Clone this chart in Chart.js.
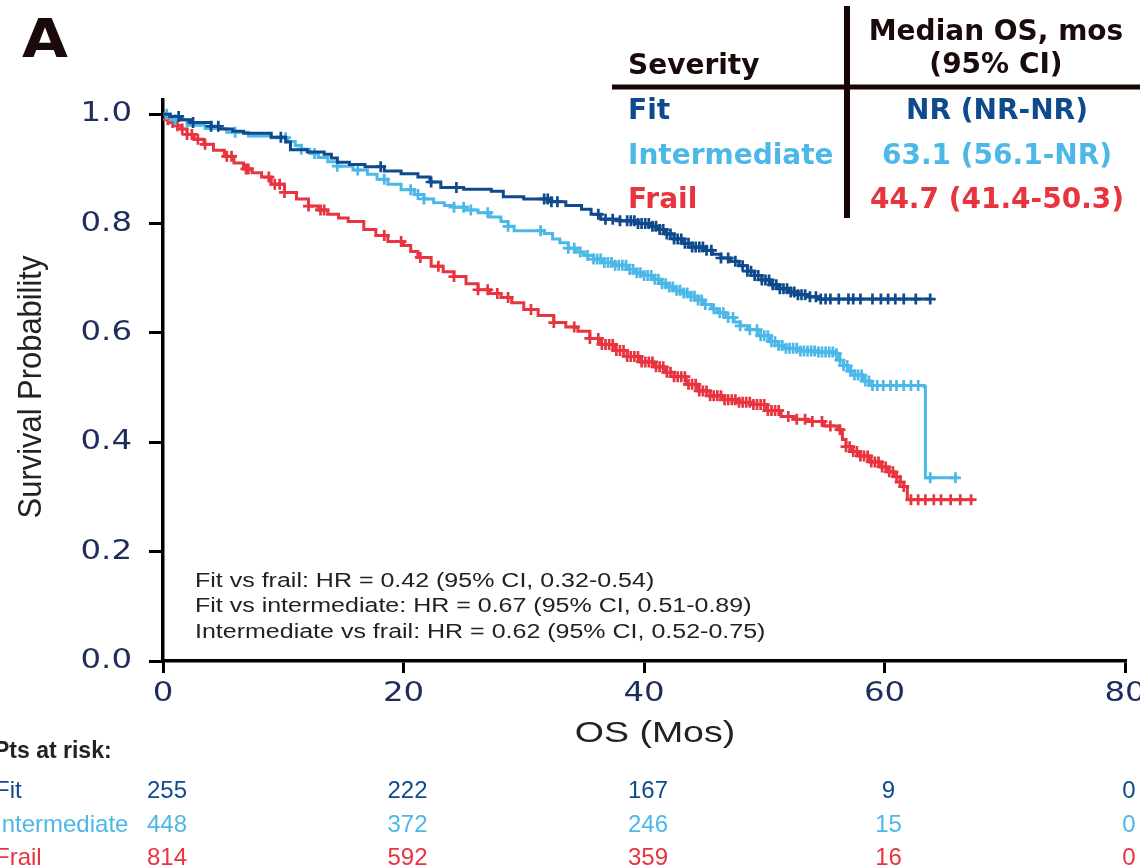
<!DOCTYPE html>
<html>
<head>
<meta charset="utf-8">
<script src="https://cdn.jsdelivr.net/npm/chart.js@4.4.1/dist/chart.umd.min.js"></script>
<style>
  html, body { margin: 0; padding: 0; background: #fff; }
  canvas { display: block; }
</style>
</head>
<body>
<canvas id="km" width="1140" height="867"></canvas>
<script>
// groups and colours
const groups = ["Fit", "Intermediate", "Frail"];
const colors = ["#0f4a8c", "#4cb8e8", "#e8343f"];

// Kaplan-Meier steps: [month, survival]
const fitKM = [[0,1.0],[0.6,0.996],[1.5,0.99],[2.3,0.985],[4.0,0.978],[4.7,0.973],[5.8,0.969],[6.7,0.965],
  [9.0,0.958],[10.2,0.949],[10.6,0.935],[12.0,0.931],[13.4,0.927],[14.0,0.92],[14.5,0.912],[15.5,0.908],
  [16.8,0.904],[18.4,0.896],[19.8,0.891],[21.2,0.885],[22.2,0.876],[23.1,0.866],[25.0,0.863],[27.3,0.859],
  [28.3,0.849],[30.0,0.845],[32.3,0.84],[33.5,0.833],[34.8,0.826],[35.6,0.817],[36.4,0.808],[38.0,0.805],
  [39.5,0.80],[40.5,0.795],[41.2,0.789],[41.8,0.781],[42.5,0.772],[43.2,0.764],[44.0,0.757],[45.0,0.751],
  [45.7,0.744],[46.4,0.737],[47.2,0.731],[47.9,0.723],[48.6,0.713],[49.2,0.705],[49.8,0.697],[50.5,0.688],
  [51.2,0.681],[52.0,0.675],[52.8,0.670],[53.6,0.666],[54.5,0.662],[63.8,0.662]];
const intKM = [[0,1.0],[0.6,0.99],[2.0,0.98],[3.5,0.974],[5.3,0.967],[7.1,0.96],[9.0,0.957],[10.4,0.95],
  [11.0,0.943],[11.5,0.936],[12.2,0.928],[12.9,0.921],[13.7,0.913],[14.5,0.905],[15.8,0.898],[17.0,0.89],
  [17.8,0.881],[18.7,0.872],[19.8,0.862],[20.9,0.853],[21.7,0.845],[22.5,0.838],[23.4,0.833],[24.2,0.83],
  [25.2,0.825],[26.2,0.82],[27.2,0.812],[28.1,0.804],[28.7,0.795],[29.2,0.787],[31.7,0.782],[32.4,0.772],
  [33.0,0.765],[33.7,0.755],[34.4,0.748],[35.0,0.742],[35.8,0.735],[36.6,0.729],[37.5,0.724],[38.6,0.716],
  [39.3,0.71],[40.0,0.705],[40.8,0.698],[41.4,0.69],[42.0,0.684],[42.5,0.678],[43.2,0.673],[43.9,0.667],
  [44.5,0.66],[45.0,0.652],[45.6,0.644],[46.1,0.637],[46.8,0.628],[47.5,0.62],[48.0,0.613],[48.6,0.606],
  [49.5,0.595],[50.5,0.584],[51.2,0.577],[51.8,0.572],[53.0,0.567],[54.5,0.565],[55.8,0.562],[56.2,0.55],
  [56.6,0.54],[57.0,0.53],[57.5,0.523],[58.2,0.512],[58.8,0.504],[63.3,0.502],[63.4,0.335],[66.1,0.335]];
const frailKM = [[0,1.0],[0.3,0.99],[0.6,0.985],[1.0,0.979],[1.5,0.973],[2.0,0.963],[2.6,0.954],[3.4,0.945],
  [4.2,0.934],[5.1,0.923],[5.9,0.911],[6.7,0.9],[7.4,0.893],[8.2,0.885],[9.0,0.872],[10.1,0.857],[11.1,0.845],
  [12.1,0.832],[12.9,0.825],[13.7,0.817],[14.6,0.81],[15.4,0.804],[16.7,0.789],[17.7,0.778],[18.7,0.767],
  [20.0,0.76],[20.6,0.749],[21.2,0.738],[22.3,0.722],[23.3,0.712],[24.2,0.703],[25.2,0.69],[26.2,0.679],
  [27.2,0.672],[28.1,0.665],[29.0,0.655],[30.0,0.643],[31.2,0.632],[32.5,0.619],[33.5,0.611],[34.5,0.603],
  [35.5,0.59],[36.4,0.579],[37.5,0.568],[38.6,0.557],[39.7,0.547],[40.8,0.538],[41.7,0.528],[42.5,0.52],
  [43.5,0.506],[44.5,0.494],[45.5,0.485],[46.6,0.478],[47.8,0.473],[49.1,0.469],[50.2,0.458],[51.4,0.447],
  [52.5,0.442],[53.6,0.438],[55.0,0.43],[56.1,0.423],[56.5,0.405],[56.8,0.392],[57.3,0.383],[57.8,0.375],
  [58.8,0.364],[59.7,0.355],[60.3,0.346],[60.8,0.337],[61.3,0.327],[61.6,0.319],[61.9,0.295],[67.4,0.295]];

// censoring times (months)
const fitCens = [1.3,2.5,4.0,4.6,9.8,18.1,22.3,24.4,31.7,32.0,32.3,32.8,36.2,36.8,37.4,38.0,38.6,38.9,39.2,
  39.5,39.8,40.1,40.4,40.7,41.0,41.3,41.6,41.9,42.2,42.5,42.8,43.1,43.4,43.7,44.0,44.3,44.6,44.9,45.2,45.6,
  46.4,47.0,47.6,48.2,48.6,48.9,49.2,49.5,49.8,50.1,50.4,50.7,51.0,51.3,51.6,51.9,52.2,52.5,52.8,53.1,53.4,
  53.8,54.3,54.7,55.1,55.5,56.2,57.0,57.4,58.0,59.0,59.7,60.3,60.9,61.6,62.6,63.8];
const intCens = [0.3,1.0,6.0,10.2,11.5,12.6,14.5,16.2,18.4,20.6,21.2,21.7,24.2,25.0,25.6,27.0,28.7,31.4,
  33.7,34.2,34.7,35.3,35.8,36.1,36.4,36.7,37.0,37.3,37.6,37.9,38.2,38.5,38.8,39.1,39.4,39.7,40.0,40.3,40.6,
  40.9,41.2,41.5,41.8,42.1,42.4,42.7,43.0,43.3,43.6,43.9,44.2,44.5,44.8,45.1,45.8,46.3,46.6,47.0,47.4,48.0,
  48.8,49.4,49.7,50.0,50.3,50.6,50.9,51.2,51.5,51.8,52.1,52.4,52.7,53.0,53.3,53.6,53.9,54.2,54.5,54.8,55.1,
  55.4,55.7,56.0,56.3,56.6,56.9,57.2,57.5,57.8,58.1,58.4,58.7,59.0,59.4,59.9,60.5,61.0,61.6,62.2,62.8,63.8,
  65.9];
const frailCens = [0.4,0.8,1.2,1.6,2.0,2.4,2.9,3.5,5.3,5.7,6.9,7.1,8.8,9.3,9.7,10.1,12.1,13.1,13.4,18.4,
  19.8,21.4,22.9,24.2,26.2,27.0,27.8,28.7,30.6,32.5,34.2,35.5,36.2,36.5,36.8,37.1,37.4,37.7,38.0,38.3,38.6,
  38.9,39.2,39.5,39.8,40.1,40.4,40.7,41.0,41.3,41.6,41.9,42.2,42.5,42.8,43.1,43.4,43.7,44.0,44.3,44.6,44.9,
  45.2,45.5,45.8,46.1,46.4,46.7,47.0,47.3,47.6,47.9,48.2,48.5,48.8,49.1,49.4,49.7,50.0,50.3,50.6,50.9,51.2,
  52.0,52.7,53.4,54.0,54.8,55.5,56.3,56.8,57.1,57.4,57.7,58.0,58.3,58.6,58.9,59.2,59.5,59.8,60.1,60.4,60.7,
  61.0,61.3,61.6,62.2,62.8,63.4,64.1,64.7,65.5,66.3,67.2];

// axes
const xTicks = [0, 20, 40, 60, 80];
const yTicks = [0.0, 0.2, 0.4, 0.6, 0.8, 1.0];

// numbers at risk
const riskTimes = [0, 20, 40, 60, 80];
const riskFit = [255, 222, 167, 9, 0];
const riskInt = [448, 372, 246, 15, 0];
const riskFrail = [814, 592, 359, 16, 0];

// median table and hazard ratios
const medianOS = ["NR (NR-NR)", "63.1 (56.1-NR)", "44.7 (41.4-50.3)"];
const hrLines = [
  "Fit vs frail: HR = 0.42 (95% CI, 0.32-0.54)",
  "Fit vs intermediate: HR = 0.67 (95% CI, 0.51-0.89)",
  "Intermediate vs frail: HR = 0.62 (95% CI, 0.52-0.75)"
];

const kmSets = [fitKM, intKM, frailKM];
const censSets = [fitCens, intCens, frailCens];
const riskSets = [riskFit, riskInt, riskFrail];

function stepAt(km, t) {
  let v = km[0][1];
  for (const [x, y] of km) {
    if (x <= t) v = y; else break;
  }
  return v;
}

const datasets = [];
groups.forEach((g, i) => {
  datasets.push({
    label: g,
    data: kmSets[i].map(p => ({ x: p[0], y: p[1] })),
    showLine: true,
    stepped: true,
    borderColor: colors[i],
    borderWidth: 3,
    pointRadius: 0,
    order: i
  });
  datasets.push({
    label: g + " censored",
    data: censSets[i].map(t => ({ x: t, y: stepAt(kmSets[i], t) })),
    showLine: false,
    pointStyle: "cross",
    pointRadius: 5.5,
    borderWidth: 2.7,
    borderColor: colors[i],
    backgroundColor: colors[i],
    order: i
  });
});

// stretched text helper (the figure's text is wider than normal)
function wideText(ctx, txt, x, y, sx, align) {
  ctx.save();
  ctx.translate(x, y);
  ctx.scale(sx, 1);
  ctx.textAlign = align;
  ctx.fillText(txt, 0, 0);
  ctx.restore();
}

const textPlugin = {
  id: "texts",
  afterDraw(chart) {
    const ctx = chart.ctx;
    const xs = chart.scales.x, ys = chart.scales.y;
    ctx.save();
    ctx.textBaseline = "alphabetic";

    // panel letter
    ctx.fillStyle = "#1a0a0a";
    ctx.font = "bold 54px 'DejaVu Sans'";
    wideText(ctx, "A", 22, 57, 1.1, "left");

    // tick labels
    ctx.fillStyle = "#1f2d5c";
    ctx.font = "27px 'DejaVu Sans'";
    ctx.textBaseline = "middle";
    yTicks.forEach(v => wideText(ctx, v.toFixed(1), 132, ys.getPixelForValue(v), 1.2, "right"));
    xTicks.forEach(v => wideText(ctx, String(v), xs.getPixelForValue(v), 694, 1.2, "center"));

    // axis titles
    ctx.fillStyle = "#222";
    ctx.font = "30px 'Liberation Sans', Arial";
    wideText(ctx, "OS (Mos)", 655, 734, 1.25, "center");
    ctx.save();
    ctx.translate(32, 387);
    ctx.rotate(-Math.PI / 2);
    ctx.scale(1.03, 1.1);
    ctx.textAlign = "center";
    ctx.fillText("Survival Probability", 0, 0);
    ctx.restore();

    // hazard ratios
    ctx.fillStyle = "#222";
    ctx.font = "20px 'Liberation Sans', Arial";
    hrLines.forEach((t, i) => wideText(ctx, t, 195, 581 + i * 25.5, 1.25, "left"));

    // median OS table
    ctx.strokeStyle = "#1a0505";
    ctx.lineWidth = 6;
    ctx.beginPath();
    ctx.moveTo(847, 6); ctx.lineTo(847, 218);
    ctx.stroke();
    ctx.lineWidth = 5;
    ctx.beginPath();
    ctx.moveTo(612, 87); ctx.lineTo(1140, 87);
    ctx.stroke();
    ctx.textBaseline = "alphabetic";
    ctx.font = "bold 28px 'DejaVu Sans'";
    ctx.fillStyle = "#1a0a0a";
    ctx.textAlign = "left";
    ctx.fillText("Severity", 628, 74);
    ctx.textAlign = "center";
    ctx.fillText("Median OS, mos", 996, 40);
    ctx.fillText("(95% CI)", 996, 73);
    const rowY = [119, 164, 208];
    groups.forEach((g, i) => {
      ctx.fillStyle = colors[i];
      ctx.textAlign = "left";
      ctx.fillText(g, 628, rowY[i]);
      ctx.textAlign = "center";
      ctx.fillText(medianOS[i], 997, rowY[i]);
    });

    // numbers at risk
    ctx.textBaseline = "middle";
    ctx.textAlign = "left";
    ctx.fillStyle = "#222";
    ctx.font = "bold 23px 'Liberation Sans', Arial";
    ctx.fillText("Pts at risk:", -6, 752);
    ctx.font = "24px 'Liberation Sans', Arial";
    const riskY = [791, 825, 858];
    groups.forEach((g, i) => {
      ctx.fillStyle = colors[i];
      ctx.textAlign = "left";
      ctx.fillText(g, -5, riskY[i]);
      riskSets[i].forEach((n, j) => {
        wideText(ctx, String(n), xs.getPixelForValue(riskTimes[j]) + 4, riskY[i], 1.0, "center");
      });
    });
    ctx.restore();
  }
};

new Chart(document.getElementById("km"), {
  type: "scatter",
  data: { datasets },
  options: {
    responsive: false,
    animation: false,
    layout: { padding: { left: 0, right: 15, top: 100, bottom: 0 } },
    plugins: { legend: { display: false }, tooltip: { enabled: false } },
    scales: {
      x: {
        type: "linear",
        min: 0,
        max: 80,
        afterBuildTicks: s => { s.ticks = xTicks.map(v => ({ value: v })); },
        afterFit: s => { s.height = 206; },
        ticks: { display: false },
        grid: { drawOnChartArea: false, drawTicks: true, tickLength: 12, color: "#000", lineWidth: 3 },
        border: { display: true, color: "#000", width: 3.5 }
      },
      y: {
        type: "linear",
        min: 0,
        max: 1.026,
        afterBuildTicks: s => { s.ticks = yTicks.map(v => ({ value: v })); },
        afterFit: s => { s.width = 163; },
        ticks: { display: false },
        grid: { drawOnChartArea: false, drawTicks: true, tickLength: 14, color: "#000", lineWidth: 3 },
        border: { display: true, color: "#000", width: 3.5 }
      }
    }
  },
  plugins: [textPlugin]
});
</script>
</body>
</html>
